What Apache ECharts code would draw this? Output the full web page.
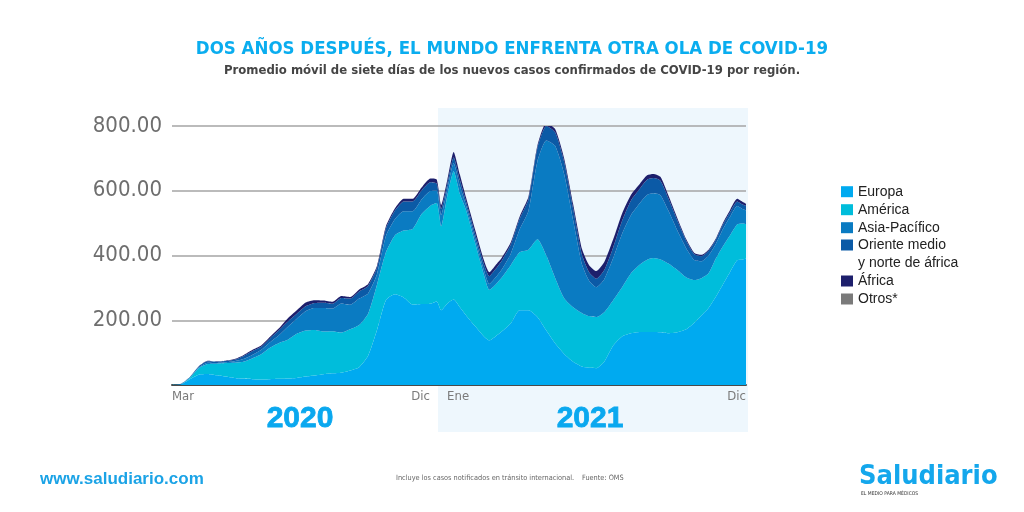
<!DOCTYPE html>
<html><head><meta charset="utf-8">
<script src="https://cdn.jsdelivr.net/npm/echarts@6/dist/echarts.min.js"></script>
<style>html,body{margin:0;padding:0;background:#fff}#c{width:1024px;height:512px}</style>
</head><body><div id="c"></div>
<script>
// Dates of the samples (7-day moving average, thousands of new cases)
const dates = ['2020-03-01','2020-03-11','2020-03-21','2020-03-31','2020-04-10','2020-04-20','2020-04-30','2020-05-10','2020-05-20','2020-05-30',
'2020-06-09','2020-06-19','2020-06-29','2020-07-09','2020-07-19','2020-07-29','2020-08-08','2020-08-18','2020-08-28','2020-09-07',
'2020-09-17','2020-09-27','2020-10-07','2020-10-17','2020-10-27','2020-11-06','2020-11-16','2020-11-26','2020-12-06','2020-12-16',
'2020-12-23','2020-12-28','2021-01-04','2021-01-11','2021-01-18','2021-01-25','2021-02-04','2021-02-14','2021-02-20','2021-02-27',
'2021-03-06','2021-03-16','2021-03-26','2021-04-05','2021-04-15','2021-04-25','2021-05-05','2021-05-15','2021-05-25','2021-06-04',
'2021-06-12','2021-06-20','2021-06-29','2021-07-09','2021-07-19','2021-07-29','2021-08-08','2021-08-16','2021-08-23','2021-08-31',
'2021-09-09','2021-09-19','2021-09-29','2021-10-08','2021-10-16','2021-10-24','2021-11-01','2021-11-09','2021-11-17','2021-11-25',
'2021-12-01','2021-12-05'];
const europa = [0,2,18,32,34,30,26,22,20,18, 17,18,19,20,22,26,29,33,36,38, 45,55,90,170,262,280,270,248,250,251,
258,231,252,264,240,215,182,150,138,150, 165,190,231,231,210,168,128,96,72,57, 53,52,72,122,150,160,164,164,164,163,
160,163,172,192,215,238,272,310,348,385, 388,390];
const america = [0,0,4,20,31,36,42,47,52,64, 78,97,111,120,136,142,141,132,130,124, 127,130,130,140,148,182,207,234,278,303,
304,259,333,396,350,325,258,190,156,160, 167,180,179,187,240,232,202,172,168,165, 160,158,153,140,152,185,208,223,228,225,
215,192,160,132,115,107,118,118,114,111, 111,107];
const asiaPacifico = [0,1,1,2,4,2,2,4,8,11, 13,17,24,40,47,60,68,73,70,90, 76,82,63,32,50,50,60,55,45,45,
38,35,22,25,25,14,14,15,18,22, 25,35,70,120,240,355,408,383,270,150, 109,92,102,130,165,180,190,200,200,198,
163,122,90,62,52,55,45,53,57,57, 45,43];
const orienteMedio = [0,1,2,3,4,4,4,5,9,11, 10,12,15,16,15,15,15,16,15,17, 19,22,23,20,23,26,30,30,28,27,
22,19,15,18,18,12,14,18,24,26, 27,28,33,36,42,45,42,38,36,30, 26,26,28,33,40,45,45,47,47,45,
38,31,23,18,16,14,13,14,14,14, 14,13];
const africa = [0,0,0,1,2,1,1,2,3,4, 4,5,6,10,11,12,9,7,6,6, 5,6,6,6,7,7,8,8,9,12,
13,12,13,17,17,12,12,12,12,12, 9,7,7,8,8,10,10,11,14,18, 22,24,25,25,23,18,15,14,13,12,
9,7,5,4,4,4,4,5,7,8, 8,7];
const otros = [];

const seriesNames = ['Europa','América','Asia-Pacífico','Oriente medio y norte de áfrica','África','Otros*'];
const seriesColors = ['#00aaf0','#00bddb','#0a7bc2','#0b5aa6','#1d1f6c','#7a7a7a'];
const monthNames = ['Ene','Feb','Mar','Abr','May','Jun','Jul','Ago','Sep','Oct','Nov','Dic'];
const xLabelDates = ['2020-03-01','2020-12-05','2021-01-16','2021-12-05'];
const yearLabels = ['2020','2021'];

const DAY = 86400000;
function ts(s){const p=s.split('-').map(Number);return Date.UTC(p[0],p[1]-1,p[2]);}
const T0 = ts(dates[0]);
const T1 = ts(dates[dates.length-1]);
function dayOf(s){return Math.round((ts(s)-T0)/DAY);}
function monthOfDay(d){return new Date(T0 + d*DAY).getUTCMonth();}

const NARROW = "'Liberation Sans Narrow','DejaVu Sans Condensed',sans-serif";
const values = [europa, america, asiaPacifico, orienteMedio, africa, otros];

const series = seriesNames.map((name,k)=>({
  name, type:'line', stack:'total', smooth:0.2, symbol:'none', showSymbol:false,
  xAxisIndex:0, yAxisIndex:0,
  lineStyle:{width:0}, itemStyle:{color:seriesColors[k]},
  areaStyle:{color:seriesColors[k], opacity:1},
  emphasis:{disabled:true},
  data: values[k].map((v,i)=>[ts(dates[i]), v])
}));

const legendText = {fontFamily:"'Liberation Sans',sans-serif", fontSize:14, lineHeight:18, color:'#222'};

const chart = echarts.init(document.getElementById('c'), null, {renderer:'canvas'});
chart.setOption({
  animation:false,
  backgroundColor:'#ffffff',
  title:{
    text:'DOS AÑOS DESPUÉS, EL MUNDO ENFRENTA OTRA OLA DE COVID-19',
    subtext:'Promedio móvil de siete días de los nuevos casos confirmados de COVID-19 por región.',
    left:'center', top:35, itemGap:5,
    textStyle:{fontFamily:NARROW, fontWeight:'bold', fontSize:18.5, color:'#0aadef'},
    subtextStyle:{fontFamily:NARROW, fontWeight:'bold', fontSize:13, color:'#454545'}
  },
  legend:[
    {data:seriesNames.slice(0,3), orient:'vertical', left:841, top:182.7, padding:0, itemGap:0,
     itemWidth:12, itemHeight:11, icon:'rect', selectedMode:false, textStyle:legendText},
    {data:seriesNames.slice(3), orient:'vertical', left:841, top:218, padding:0, itemGap:0,
     itemWidth:12, itemHeight:11, icon:'rect', selectedMode:false,
     formatter:n=>n.indexOf(' y norte')>0 ? '\n'+n.replace(' y norte','\ny norte') : n,
     textStyle:legendText}
  ],
  grid:{left:172, right:278, top:126, bottom:127, containLabel:false},
  xAxis:[{
    type:'time', min:T0, max:T1,
    axisLine:{show:true, onZero:false, lineStyle:{color:'#4a4a4a', width:2}},
    axisTick:{show:false}, splitLine:{show:false}, axisLabel:{show:false}
  },{
    type:'value', min:0, max:dayOf(dates[dates.length-1]), position:'bottom',
    axisLine:{show:false}, axisTick:{show:false}, splitLine:{show:false},
    axisLabel:{customValues:xLabelDates.map(dayOf), formatter:v=>monthNames[monthOfDay(v)],
      showMinLabel:true, showMaxLabel:true, alignMinLabel:'left', alignMaxLabel:'right', hideOverlap:false,
      color:'#7a7a7a', fontSize:13, fontFamily:NARROW, margin:5}
  }],
  yAxis:{
    type:'value', min:0, max:800, interval:200,
    axisLine:{show:false}, axisTick:{show:false},
    splitLine:{lineStyle:{color:'#a5a5a5', width:1.5}},
    axisLabel:{showMinLabel:false, formatter:v=>v.toFixed(2), color:'#6e6e6e', fontSize:22, fontFamily:NARROW, margin:10}
  },
  graphic:[
    {type:'rect', z:-10, silent:true, shape:{x:438, y:108, width:310, height:324}, style:{fill:'#eef7fd'}},
    {type:'text', x:300, y:419, silent:true, style:{text:yearLabels[0], align:'center', verticalAlign:'middle', font:"bold 30px 'Liberation Sans',sans-serif", fill:'#0aa8ef', stroke:'#0aa8ef', lineWidth:0.8}},
    {type:'text', x:590, y:419, silent:true, style:{text:yearLabels[1], align:'center', verticalAlign:'middle', font:"bold 30px 'Liberation Sans',sans-serif", fill:'#0aa8ef', stroke:'#0aa8ef', lineWidth:0.8}},
    {type:'text', x:40, y:479, silent:true, style:{text:'www.saludiario.com', verticalAlign:'middle', font:"bold 17px 'Liberation Sans',sans-serif", fill:'#1ba3e6'}},
    {type:'text', x:396, y:478, silent:true, style:{text:'Incluye los casos notificados en tránsito internacional.', verticalAlign:'middle', font:"7.3px "+NARROW, fill:'#666'}},
    {type:'text', x:582, y:478, silent:true, style:{text:'Fuente: OMS', verticalAlign:'middle', font:"7.3px "+NARROW, fill:'#666'}},
    {type:'text', x:859, y:477, silent:true, style:{text:'Saludiario', verticalAlign:'middle', font:"bold 27px "+NARROW, fill:'#14a7ec'}},
    {type:'text', x:861, y:494, silent:true, style:{text:'EL MEDIO PARA MÉDICOS', verticalAlign:'middle', font:"5px "+NARROW, fill:'#333'}}
  ],
  series
});
</script></body></html>
